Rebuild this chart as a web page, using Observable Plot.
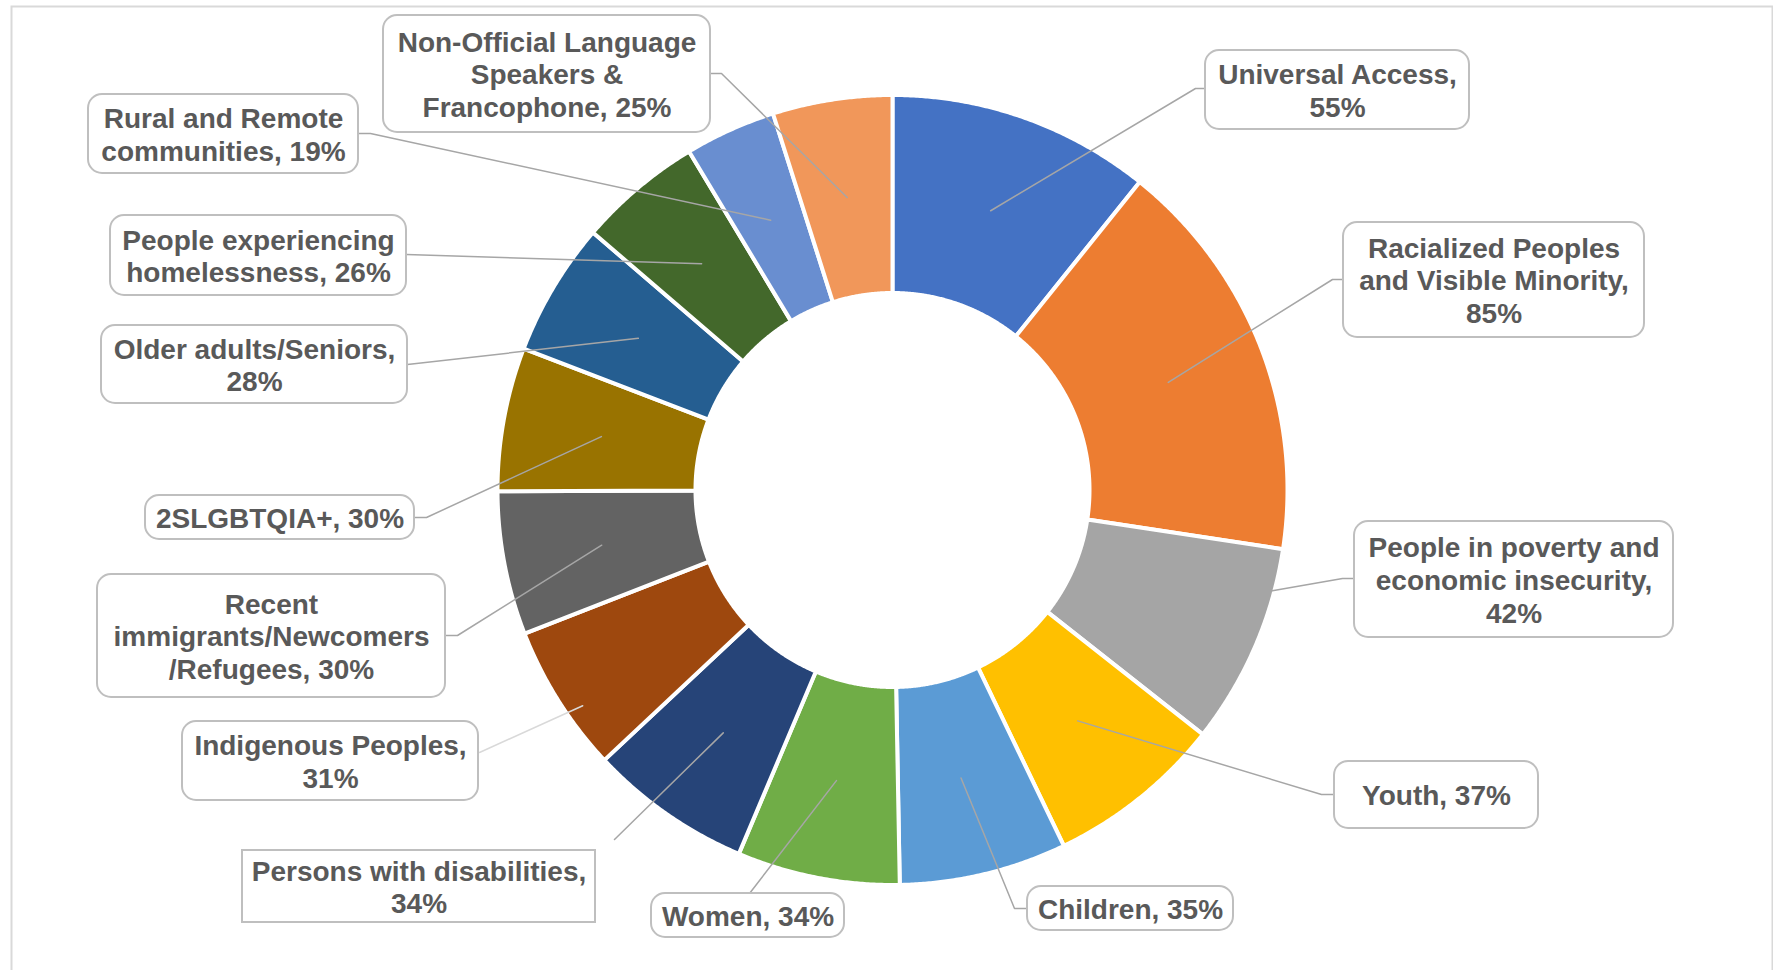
<!DOCTYPE html>
<html><head><meta charset="utf-8">
<script src="https://cdn.jsdelivr.net/npm/d3@7"></script>
<script src="https://cdn.jsdelivr.net/npm/@observablehq/plot@0.6"></script>
<style>html,body{margin:0;padding:0;background:#fff;} #chart svg{display:block}</style>
</head><body><div id="chart"></div>
<script>
// ---- data ----
const categories = [
  "Universal Access",
  "Racialized Peoples\nand Visible Minority",
  "People in poverty and\neconomic insecurity",
  "Youth",
  "Children",
  "Women",
  "Persons with disabilities",
  "Indigenous Peoples",
  "Recent\nimmigrants/Newcomers\n/Refugees",
  "2SLGBTQIA+",
  "Older adults/Seniors",
  "People experiencing\nhomelessness",
  "Rural and Remote\ncommunities",
  "Non-Official Language\nSpeakers &\nFrancophone"
];
const values = [55, 85, 42, 37, 35, 34, 34, 31, 30, 30, 28, 26, 19, 25];
const separators = [",\n", ",\n", ",\n", ", ", ", ", ", ", ",\n", ",\n", ", ", ", ", ",\n", ", ", ", ", ", "];
const colors = ["#4472C4", "#ED7D31", "#A5A5A5", "#FFC000", "#5B9BD5", "#70AD47", "#264478",
                "#9E480E", "#636363", "#997300", "#255E91", "#43682B", "#698ED0", "#F1975A"];

// ---- layout (positions of label boxes and leader elbows, in px) ----
const W = 1773, H = 970;
const cx = 892, cy = 489.5, rIn = 199, rOut = 393, gap = 4;
const layout = [
  {box: [1205, 50, 1469, 129],  path: [[1195, 88], [1205, 88]], f: 0.5, t: 0.5},
  {box: [1343, 222, 1644, 337], path: [[1332, 279], [1343, 279]], f: 0.5, t: 0.5},
  {box: [1354, 521, 1673, 637], path: [[1342, 578], [1354, 578]], f: 1.0, t: 0.21},
  {box: [1334, 761, 1538, 828], path: [[1321, 794], [1334, 794]], f: 0.5, t: 0.5},
  {box: [1027, 886, 1233, 930], path: [[1014, 908], [1027, 908]], f: 0.5, t: 0.5},
  {box: [651, 893, 844, 937],   path: [[749, 893]], f: 0.5, t: 0.5},
  {box: [242, 850, 595, 922],   path: [[614, 839]], f: 0.5, t: 0.5, square: true},
  {box: [182, 721, 478, 800],   path: [[479, 752]], f: 0.92, t: 0.38, light: true},
  {box: [97, 574, 445, 697],    path: [[457, 635], [445, 635]], f: 0.5, t: 0.5},
  {box: [145, 495, 414, 539],   path: [[426, 517], [414, 517]], f: 0.5, t: 0.5},
  {box: [101, 325, 407, 403],   path: [[407, 364]], f: 0.5, t: 0.5},
  {box: [110, 215, 406, 295],   path: [[406, 254]], f: 0.5, t: 0.5},
  {box: [88, 94, 358, 173],     path: [[370, 133], [358, 133]], f: 0.5, t: 0.5},
  {box: [383, 15, 710, 132],    path: [[721, 73], [710, 73]], f: 0.5, t: 0.5}
];

// ---- geometry from data ----
const arcs = d3.pie().sort(null).value(d => d)(values);
const pt = (a, r) => [cx + r * Math.sin(a), cy - r * Math.cos(a)];

const slicePts = [];
arcs.forEach((a, i) => {
  const name = categories[i];
  const n = Math.max(2, Math.ceil((a.endAngle - a.startAngle) / 0.005));
  const r0 = rIn - gap / 2, r1 = rOut + gap / 2;
  for (let k = 0; k <= n; k++) {
    const t = a.startAngle + (a.endAngle - a.startAngle) * k / n;
    const [x, y] = pt(t, r1); slicePts.push({name, x, y});
  }
  for (let k = n; k >= 0; k--) {
    const t = a.startAngle + (a.endAngle - a.startAngle) * k / n;
    const [x, y] = pt(t, r0); slicePts.push({name, x, y});
  }
});

const leaderPts = [];
arcs.forEach((a, i) => {
  const L = layout[i];
  const ang = a.startAngle + (a.endAngle - a.startAngle) * L.t;
  const [x, y] = pt(ang, rIn + (rOut - rIn) * L.f);
  const pts = [[x, y], ...L.path];
  pts.forEach(([px, py]) => leaderPts.push({name: categories[i], x: px, y: py, light: !!L.light}));
});

const labels = arcs.map((a, i) => {
  const [x1, y1, x2, y2] = layout[i].box;
  return {name: categories[i], x1, y1, x2, y2, cx: (x1 + x2) / 2, cy: (y1 + y2) / 2,
          square: !!layout[i].square,
          text: categories[i] + separators[i] + values[i] + "%"};
});

const font = "'Liberation Sans', Arial, Helvetica, sans-serif";

const chart = Plot.plot({
  width: W, height: H,
  margin: 0,
  x: {domain: [0, W], range: [0, W], axis: null},
  y: {domain: [0, H], range: [0, H], axis: null},
  color: {type: "ordinal", domain: categories, range: colors},
  style: {fontFamily: font, background: "#fff"},
  marks: [
    Plot.frame({stroke: "#d9d9d9", strokeWidth: 2, insetLeft: 11, insetTop: 6, insetRight: 1, insetBottom: -10}),
    Plot.line(slicePts, {x: "x", y: "y", z: "name", fill: "name", stroke: "white", strokeWidth: gap, curve: "linear-closed"}),
    Plot.line(leaderPts.filter(d => !d.light), {x: "x", y: "y", z: "name", stroke: "#a6a6a6", strokeWidth: 1.5}),
    Plot.line(leaderPts.filter(d => d.light), {x: "x", y: "y", z: "name", stroke: "#d9d9d9", strokeWidth: 1.5}),
    Plot.rect(labels.filter(d => !d.square), {x1: "x1", x2: "x2", y1: "y1", y2: "y2", fill: "white", stroke: "#bfbfbf", strokeWidth: 2, rx: 14}),
    Plot.rect(labels.filter(d => d.square), {x1: "x1", x2: "x2", y1: "y1", y2: "y2", fill: "white", stroke: "#bfbfbf", strokeWidth: 2}),
    Plot.text(labels, {x: "cx", y: "cy", text: "text", fontSize: 28, fontWeight: "bold", fill: "#595959", lineHeight: 1.17, fontFamily: font})
  ]
});
document.getElementById("chart").appendChild(chart);
</script>
</body></html>
